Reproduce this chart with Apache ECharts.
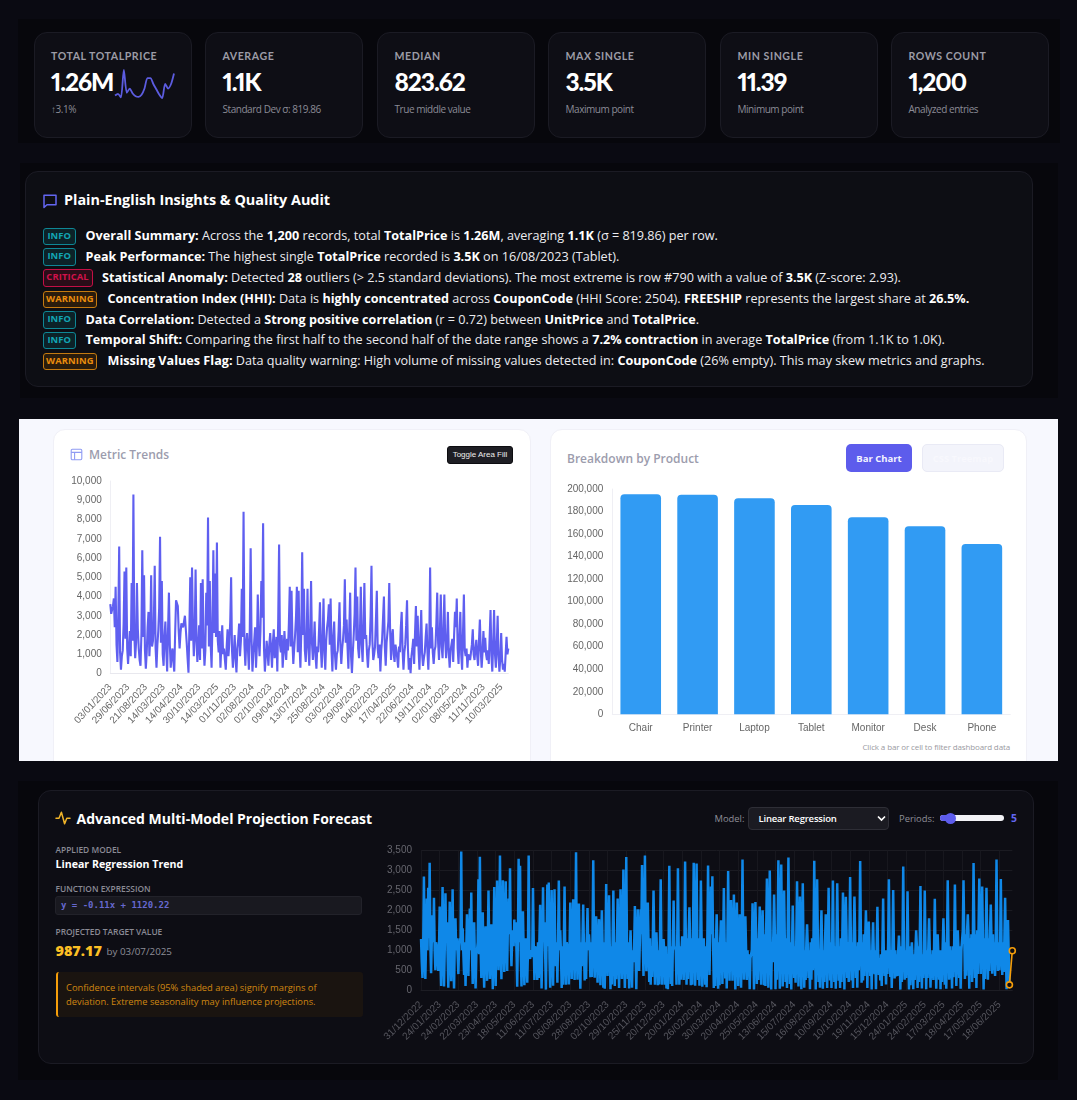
<!DOCTYPE html>
<html lang="en">
<head>
<meta charset="utf-8">
<title>Sales Analytics Dashboard</title>
<script src="https://cdn.jsdelivr.net/npm/echarts@6/dist/echarts.min.js"></script>
<style>
  * { box-sizing: border-box; }
  html, body { margin: 0; padding: 0; background: #0a0a12; width: 1077px; height: 1100px; overflow: hidden; }
  body { position: relative; font-family: "Open Sans", sans-serif; color: #fff; }
  .abs { position: absolute; white-space: nowrap; }
  .strip { position: absolute; background: #07070c; }
  .kpi { position: absolute; top: 32px; width: 158px; height: 106px; border: 1px solid #1b1b24; border-radius: 13px; background: #0e0e15; }
  .kpi .name { position: absolute; left: 16.5px; top: 17px; font: 700 10.6px Lato, sans-serif; letter-spacing: .55px; color: #9c9ca6; white-space: nowrap; }
  .kpi .val { position: absolute; left: 16.5px; top: 33.5px; font: 900 24.5px Lato, sans-serif; font-feature-settings: "pnum" 1; letter-spacing: -1.1px; color: #fff; white-space: nowrap; }
  .kpi .sub { position: absolute; left: 16.5px; top: 69px; font: 400 10px "Open Sans", sans-serif; letter-spacing: -.45px; color: #8b8b95; white-space: nowrap; }
  .panel { position: absolute; border: 1px solid #1b1b24; border-radius: 13px; background: #0d0e14; }
  .row { position: absolute; white-space: nowrap; font: 400 12.63px/18px "Open Sans", sans-serif; color: #ececf0; }
  .row b { font-weight: 700; color: #fff; }
  .badge { position: absolute; left: 42.5px; height: 17.5px; border-radius: 3px; border: 1.5px solid; font: 700 9.4px/14px "Open Sans", sans-serif; letter-spacing: .1px; text-align: center; }
  .info { width: 33.5px; color: #12a5b4; border-color: #0e8795; background: #0c2228; }
  .critical { width: 50px; color: #d0124a; border-color: #c40f45; background: #2a0d18; }
  .warning { width: 54.5px; color: #ea8c0c; border-color: #c47a10; background: #2a1c0c; }
  .lightband { position: absolute; left: 19px; top: 419px; width: 1039px; height: 342px; background: #f7f8fe; overflow: hidden; }
  .lcard { position: absolute; top: 10px; height: 360px; background: #fff; border: 1px solid #f0f0f7; border-radius: 12px; }
  .chart { position: absolute; }
  .caps { font: 600 8.4px "Open Sans", sans-serif; color: #8a8a94; }
</style>
</head>
<body>
  <div class="strip" style="left:18px;top:19px;width:1042px;height:124px"></div>
  <div class="strip" style="left:20px;top:163px;width:1038px;height:235px"></div>
  <div class="strip" style="left:18px;top:781px;width:1040px;height:299px"></div>

  <div id="kpis"></div>
  <div class="chart" id="sparkChart" style="left:113px;top:67px;width:64px;height:34px"></div>

  <div class="panel" style="left:25px;top:171px;width:1008px;height:216px"></div>
  <svg class="abs" style="left:42px;top:193px" width="16" height="16" viewBox="0 0 16 16" fill="none" stroke="#6366f1" stroke-width="1.5" stroke-linejoin="round"><path d="M2 2.2h12v9.6H5L2 14.4z"/></svg>
  <div class="abs" style="left:64px;top:190px;font:700 14.4px/20px 'Open Sans',sans-serif;color:#fff">Plain-English Insights &amp; Quality Audit</div>
  <div id="insights"></div>

  <div class="lightband">
    <div class="lcard" style="left:34px;width:478px"></div>
    <div class="lcard" style="left:531px;width:477px"></div>
  </div>
  <svg class="abs" style="left:70px;top:448px" width="13" height="13" viewBox="0 0 13 13" fill="none" stroke="#8f9bf3" stroke-width="1.1"><rect x="1.2" y="1.2" width="10.6" height="10.6" rx="1.2"/><path d="M1.2 4.4h10.6M4.6 4.4v7.4"/></svg>
  <div class="abs" style="left:89px;top:446px;font:600 12px/18px 'Open Sans',sans-serif;color:#9c9cad">Metric Trends</div>
  <div class="abs" style="left:447px;top:446px;width:66px;height:18px;background:#1e1e24;border:1px solid #0c0c10;border-radius:3px;font:400 8px/16px 'Liberation Sans',sans-serif;color:#eee;text-align:center">Toggle Area Fill</div>
  <div class="abs" style="left:567px;top:450px;font:600 12px/18px 'Open Sans',sans-serif;color:#9c9cad">Breakdown by Product</div>
  <div class="abs" style="left:846px;top:444px;width:66px;height:28px;background:#5d5cec;border-radius:5px;font:700 9.5px/30px 'Open Sans',sans-serif;color:#f4f4ff;text-align:center">Bar Chart</div>
  <div class="abs" style="left:922px;top:444px;width:82px;height:28px;background:#f3f4fb;border:1px solid #e9eaf5;border-radius:5px;font:700 9.4px/28px 'Open Sans',sans-serif;color:#f8f8fd;text-align:center">CSS Treemap</div>
  <div class="abs" style="right:67px;top:741px;font:400 8px/12px 'Open Sans',sans-serif;letter-spacing:-.13px;color:#9a9aa2">Click a bar or cell to filter dashboard data</div>

  <div class="chart" id="trendChart" style="left:53px;top:470px;width:477px;height:291px"></div>
  <div class="chart" id="productChart" style="left:550px;top:478px;width:477px;height:262px"></div>

  <div class="panel" style="left:38px;top:790px;width:996px;height:274px;background:#0d0d14"></div>
  <svg class="abs" style="left:55px;top:811px" width="16" height="14" viewBox="0 0 16 14" fill="none" stroke="#f0b429" stroke-width="1.5" stroke-linejoin="round" stroke-linecap="round"><path d="M1 7.2h3l2.4-6 3.2 11.6 2.2-5.6H15"/></svg>
  <div class="abs" style="left:76.5px;top:808px;font:700 14px/21px 'Open Sans',sans-serif;color:#fff">Advanced Multi-Model Projection Forecast</div>
  <div class="abs caps" style="left:55.5px;top:844px">APPLIED MODEL</div>
  <div class="abs" style="left:55.5px;top:856px;font:700 10.6px/16px 'Open Sans',sans-serif;color:#fff">Linear Regression Trend</div>
  <div class="abs caps" style="left:55.5px;top:883px">FUNCTION EXPRESSION</div>
  <div class="abs" style="left:55px;top:896px;width:307px;height:18.5px;background:#191920;border:1px solid #22222a;border-radius:3px"></div>
  <div class="abs" style="left:61px;top:898px;font:700 9px/14px 'DejaVu Sans Mono',monospace;color:#6668cf">y = -0.11x + 1120.22</div>
  <div class="abs caps" style="left:55.5px;top:925.5px">PROJECTED TARGET VALUE</div>
  <div class="abs" style="left:55.5px;top:941px;font:800 14.4px/20px 'Open Sans',sans-serif;color:#fbbf24">987.17</div>
  <div class="abs" style="left:106.5px;top:944px;font:400 9.8px/16px 'Open Sans',sans-serif;color:#8e8e98">by 03/07/2025</div>
  <div class="abs" style="left:55.5px;top:972px;width:307px;height:45px;background:#1a1410;border-left:2.5px solid #f59e0b;border-radius:3px"></div>
  <div class="abs" style="left:66px;top:981px;font:400 9.36px/14px 'Open Sans',sans-serif;color:#cf8610">Confidence intervals (95% shaded area) signify margins of<br>deviation. Extreme seasonality may influence projections.</div>

  <div class="abs" style="left:714.5px;top:811px;font:400 9.4px/15px 'Open Sans',sans-serif;color:#8e8e98">Model:</div>
  <div class="abs" style="left:748px;top:806.5px;width:141px;height:23px;background:#1b1b22;border:1px solid #2e2e36;border-radius:4px"></div>
  <div class="abs" style="left:758.5px;top:811px;font:600 9.5px/15px 'Open Sans',sans-serif;letter-spacing:-.2px;color:#fff">Linear Regression</div>
  <svg class="abs" style="left:877px;top:815px" width="9" height="7" viewBox="0 0 9 7" fill="none" stroke="#fff" stroke-width="1.7"><path d="M1 1.5l3.5 3.5 3.5-3.5"/></svg>
  <div class="abs" style="left:899px;top:811px;font:400 9.4px/15px 'Open Sans',sans-serif;color:#8e8e98">Periods:</div>
  <div class="abs" style="left:940px;top:815px;width:64px;height:6px;background:#f2f2f6;border-radius:3px"></div>
  <div class="abs" style="left:940px;top:815px;width:10px;height:6px;background:#5d5cec;border-radius:3px 0 0 3px"></div>
  <div class="abs" style="left:944.5px;top:812.5px;width:11px;height:11px;background:#5d5cec;border-radius:50%"></div>
  <div class="abs" style="left:1011px;top:811px;font:700 10.4px/15px 'Open Sans',sans-serif;color:#6366f1">5</div>

  <div class="chart" id="forecastChart" style="left:380px;top:840px;width:654px;height:222px"></div>

<script>
// KPI cards
const kpiNames = ["TOTAL TOTALPRICE", "AVERAGE", "MEDIAN", "MAX SINGLE", "MIN SINGLE", "ROWS COUNT"];
const kpiValues = ["1.26M", "1.1K", "823.62", "3.5K", "11.39", "1,200"];
const kpiNotes = ["\u21913.1%", "Standard Dev \u03c3: 819.86", "True middle value", "Maximum point", "Minimum point", "Analyzed entries"];
const kpiLefts = [33.5, 205, 377, 548, 720, 891];

// Sparkline inside the first card
const sparkValues = [7, 12, 2, 80, 15, 27, 13, 5, 3, 9, 27, 57, 57, 40, 25, 10, 0, 40, 27, 40, 70];

// Insight rows: severity, text
const insightLevels = ["info", "info", "critical", "warning", "info", "info", "warning"];
const insightTexts = [
  "<b>Overall Summary:</b> Across the <b>1,200</b> records, total <b>TotalPrice</b> is <b>1.26M</b>, averaging <b>1.1K</b> (\u03c3 = 819.86) per row.",
  "<b>Peak Performance:</b> The highest single <b>TotalPrice</b> recorded is <b>3.5K</b> on 16/08/2023 (Tablet).",
  "<b>Statistical Anomaly:</b> Detected <b>28</b> outliers (> 2.5 standard deviations). The most extreme is row #790 with a value of <b>3.5K</b> (Z-score: 2.93).",
  "<b>Concentration Index (HHI):</b> Data is <b>highly concentrated</b> across <b>CouponCode</b> (HHI Score: 2504). <b>FREESHIP</b> represents the largest share at <b>26.5%.</b>",
  "<b>Data Correlation:</b> Detected a <b>Strong positive correlation</b> (r = 0.72) between <b>UnitPrice</b> and <b>TotalPrice</b>.",
  "<b>Temporal Shift:</b> Comparing the first half to the second half of the date range shows a <b>7.2% contraction</b> in average <b>TotalPrice</b> (from 1.1K to 1.0K).",
  "<b>Missing Values Flag:</b> Data quality warning: High volume of missing values detected in: <b>CouponCode</b> (26% empty). This may skew metrics and graphs."
];
const insightRowTops = [227, 247.5, 268.5, 290, 310.5, 331, 352];
const insightTextLefts = { info: 85.5, critical: 102, warning: 107.5 };

// Metric Trends line
const trendTickLabels = ["03/01/2023", "29/06/2023", "21/08/2023", "14/03/2023", "14/04/2024", "30/10/2023", "14/03/2025", "01/11/2023", "02/08/2024", "02/10/2023", "09/04/2024", "13/07/2024", "25/08/2024", "03/02/2024", "29/09/2023", "04/02/2023", "17/04/2025", "22/06/2024", "19/11/2024", "02/01/2023", "08/05/2024", "11/11/2023", "10/03/2025"];
const trendValues = [
  3600, 3100, 3000, 3500, 3900, 2400, 4500, 1500, 600, 2900, 6600, 1100, 200, 900, 1200, 2600, 5300, 1800, 5500, 1300,
  500, 1400, 2200, 900, 4700, 1700, 9300, 2100, 800, 1600, 4700, 2300, 1300, 700, 400, 2000, 6400, 1900, 5100, 1200,
  250, 1100, 2400, 3200, 900, 1900, 5100, 1400, 1700, 2600, 5600, 1300, 300, 1500, 2200, 3400, 7100, 1600, 4800, 1000,
  400, 1900, 2700, 1200, 100, 2300, 4200, 1500, 300, 1000, 1300, 600, 100, 2100, 3800, 3700, 3500, 2200, 1300, 2100,
  2600, 2500, 2400, 2700, 3000, 2300, 1600, 800, 40, 2300, 5000, 1700, 5500, 2400, 900, 2000, 5400, 1800, 600, 1500,
  2500, 700, 4700, 1300, 4900, 1600, 400, 1200, 4200, 2500, 8100, 1400, 4800, 1500, 300, 2600, 6400, 2100, 5200, 1900,
  6800, 1700, 1100, 2200, 300, 1500, 2500, 1000, 1300, 700, 200, 1400, 2300, 900, 1600, 2700, 5000, 1200, 300, 1100,
  2000, 800, 50, 1300, 1800, 2600, 900, 1700, 4400, 1900, 8400, 1500, 400, 1600, 2100, 1200, 200, 2300, 6500, 1800,
  100, 1000, 1700, 2400, 300, 1400, 4100, 1800, 900, 2200, 4800, 2900, 7800, 1300, 100, 900, 1700, 1100, 400, 1500,
  2100, 1200, 300, 1600, 2300, 800, 1100, 1900, 100, 2800, 6700, 1500, 1100, 2000, 300, 1100, 2200, 1300, 700, 1800,
  1200, 2600, 4500, 1400, 4300, 1700, 500, 1300, 2000, 2900, 4500, 1100, 4300, 1500, 300, 2200, 6300, 2000, 4400, 1200,
  600, 1900, 4400, 1300, 400, 2100, 4800, 1600, 700, 1500, 2700, 900, 250, 1400, 1100, 2300, 3700, 1300, 300, 1800,
  3900, 1100, 200, 1700, 2400, 2800, 3600, 1500, 3900, 1200, 100, 1900, 2700, 900, 200, 1000, 1200, 2200, 3700, 1500,
  500, 1300, 1800, 2500, 4900, 1600, 2800, 1400, 250, 2300, 4200, 900, 30, 1100, 2000, 3100, 5500, 1700, 4000, 1300,
  800, 2100, 4500, 1500, 600, 2400, 4700, 1800, 2000, 1000, 300, 1200, 1500, 3000, 5600, 1700, 700, 1000, 1400, 2800,
  4300, 1300, 800, 1500, 100, 1200, 1800, 2900, 4000, 1400, 400, 1600, 1700, 2700, 4700, 2200, 700, 1900, 2300, 1000,
  600, 1500, 1200, 800, 300, 1400, 1100, 2400, 3200, 1200, 200, 1100, 1500, 2500, 3800, 1300, 200, 800, 20, 900,
  1300, 1800, 500, 2100, 3500, 1400, 3000, 1200, 200, 1900, 3300, 1000, 400, 800, 1100, 1900, 2600, 1100, 200, 1600,
  5500, 1300, 2400, 1100, 500, 1200, 1400, 2600, 4200, 1600, 700, 2200, 4100, 1400, 800, 2300, 4100, 1700, 800, 1600,
  3200, 1100, 300, 1200, 1100, 1800, 600, 2000, 3200, 2400, 3900, 1300, 500, 1900, 3200, 1000, 200, 2100, 4100, 1200,
  900, 1300, 300, 1000, 1100, 700, 800, 1500, 2300, 1000, 700, 1300, 1750, 900, 400, 1700, 2800, 1200, 300, 1100,
  2200, 1100, 1850, 1000, 700, 1200, 500, 1900, 3300, 900, 100, 1600, 3300, 1000, 300, 1500, 3000, 900, 100, 800,
  2100, 700, 200, 500, 100, 1000, 1900, 1000, 1300
];

// Breakdown by Product bars
const productNames = ["Chair", "Printer", "Laptop", "Tablet", "Monitor", "Desk", "Phone"];
const productTotals = [195300, 195000, 191700, 185800, 174900, 166900, 151200];

// Projection chart: observed series, fitted end segment and date ticks
const forecastTickLabels = ["31/12/2022", "24/01/2023", "24/02/2023", "22/03/2023", "23/04/2023", "18/05/2023", "11/06/2023", "11/07/2023", "06/08/2023", "28/08/2023", "02/10/2023", "29/10/2023", "25/11/2023", "20/12/2023", "20/01/2024", "26/02/2024", "30/03/2024", "20/04/2024", "25/05/2024", "13/06/2024", "15/07/2024", "16/08/2024", "10/09/2024", "10/10/2024", "19/11/2024", "15/12/2024", "24/01/2025", "24/02/2025", "17/03/2025", "18/04/2025", "17/05/2025", "18/06/2025"];
const forecastValues = [
  1280, 700, 300, 1100, 2850, 900, 280, 1200, 2300, 1000, 2570, 1300, 3200, 1100, 420, 1300, 1880, 1200, 2320, 1000, 500, 1200, 1100, 900, 480, 1000,
  2100, 800, 100, 1200, 2590, 1100, 90, 1000, 2430, 1200, 1700, 900, 60, 1100, 2220, 1000, 220, 1300, 2530, 800, 40, 1200, 1800, 1000, 1300, 900,
  400, 1100, 1300, 1200, 3480, 1000, 1550, 900, 380, 1200, 100, 1000, 1900, 1100, 350, 1300, 2050, 1000, 2450, 900, 150, 1200, 1700, 800, 40, 900,
  1000, 1200, 2780, 900, 3350, 1100, 300, 1400, 1950, 800, 60, 1300, 1600, 1000, 230, 1200, 2500, 1100, 280, 1300, 1650, 900, 20, 1200, 2590, 1000,
  100, 1400, 2750, 1500, 500, 1300, 3380, 1200, 270, 1600, 2760, 1400, 450, 1500, 2730, 1300, 480, 1600, 2300, 1400, 3060, 1200, 600, 1300, 1500, 1100,
  1770, 1200, 1700, 1000, 80, 1300, 3300, 1200, 3120, 900, 90, 1100, 1980, 1000, 120, 1200, 1300, 800, 180, 1000, 3380, 900, 780, 1000, 830, 900,
  2560, 1200, 250, 1100, 1150, 900, 250, 1200, 300, 1300, 2140, 1000, 40, 1100, 2580, 1200, 1700, 900, 10, 1300, 2650, 1100, 2700, 800, 60, 1200,
  2510, 900, 110, 1300, 2530, 1100, 600, 1200, 180, 1300, 2750, 1000, 1500, 900, 50, 1100, 130, 1200, 2600, 900, 130, 1200, 1200, 1000, 140, 1100,
  2200, 1300, 280, 1400, 2280, 1200, 250, 1300, 3460, 1100, 260, 1400, 2170, 1000, 30, 1200, 600, 1300, 2150, 1100, 240, 1200, 280, 1300, 2060, 1000,
  1400, 1100, 320, 1200, 330, 1300, 3260, 1200, 310, 1400, 1850, 1000, 180, 1200, 1780, 1000, 120, 1300, 2000, 1100, 60, 1200, 30, 1000, 2660, 1100,
  350, 1300, 2380, 1100, 20, 1100, 140, 1300, 2500, 1000, 100, 1200, 270, 1300, 2300, 900, 50, 1200, 2530, 1100, 280, 1300, 3030, 1000, 50, 1200,
  3340, 1100, 280, 1200, 40, 1000, 1500, 800, 60, 1000, 700, 1100, 2110, 900, 20, 1200, 2030, 1200, 480, 1300, 2030, 1400, 3140, 1200, 350, 1500,
  3380, 1300, 470, 1400, 2200, 1200, 200, 1300, 130, 1100, 330, 1300, 2500, 1100, 130, 1000, 1450, 900, 120, 1000, 140, 1200, 2780, 1000, 130, 1000,
  1280, 900, 130, 1100, 40, 900, 20, 1200, 3120, 1000, 150, 1100, 100, 1200, 2250, 1100, 1100, 1000, 130, 1200, 3060, 1200, 130, 1100, 260, 1000,
  1350, 800, 250, 1100, 3230, 1300, 130, 1300, 280, 1400, 2080, 1200, 120, 1300, 130, 1400, 3200, 1400, 110, 1300, 3180, 1200, 250, 1300, 110, 1000,
  2750, 1300, 80, 1200, 1300, 1300, 130, 1100, 70, 1300, 3130, 1300, 380, 1500, 2600, 1400, 2860, 1200, 50, 1300, 100, 1200, 1900, 1100, 30, 1200,
  120, 1300, 1750, 1400, 150, 1200, 2560, 1300, 290, 1200, 40, 1300, 2990, 1300, 230, 1400, 2260, 1200, 230, 1300, 2400, 1100, 10, 1200, 2200, 1200,
  100, 1100, 1900, 1200, 60, 1300, 3280, 1200, 260, 1100, 1850, 1000, 250, 1000, 350, 900, 20, 800, 900, 1000, 2180, 1200, 10, 1200, 2210, 1300,
  150, 1300, 250, 1400, 2100, 1300, 130, 1200, 2000, 1300, 120, 1400, 100, 1500, 2800, 1500, 60, 1600, 3000, 1400, 10, 1200, 700, 1400, 2400, 1500,
  20, 1400, 260, 1500, 3260, 1500, 30, 1600, 3150, 1400, 90, 1300, 2500, 1200, 200, 1300, 50, 1400, 3330, 1300, 150, 1200, 10, 1100, 2120, 1200,
  300, 1100, 180, 1300, 2730, 1200, 90, 1300, 2350, 1200, 20, 1300, 2680, 1100, 60, 1000, 250, 1200, 1650, 1100, 300, 1000, 20, 1200, 260, 1300,
  500, 1400, 3250, 1300, 10, 1200, 2780, 1300, 200, 1000, 60, 1300, 2000, 1100, 30, 1000, 200, 1200, 1900, 1100, 50, 1200, 2570, 1300, 240, 1200,
  50, 1300, 2750, 1200, 200, 1100, 30, 1300, 2680, 1300, 230, 1100, 50, 1300, 200, 1200, 2450, 1400, 10, 1300, 2340, 1400, 300, 1200, 200, 1300,
  2840, 1300, 240, 1200, 50, 1400, 2350, 1300, 300, 1100, 60, 1200, 500, 1400, 3240, 1300, 180, 1200, 240, 1400, 350, 1300, 2000, 1200, 50, 1200,
  1720, 1100, 350, 1000, 10, 1100, 1700, 900, 400, 1000, 20, 1100, 2090, 900, 380, 800, 240, 900, 100, 1100, 2300, 800, 350, 1000, 140, 1000,
  400, 1200, 2780, 1100, 330, 1000, 50, 1200, 2510, 1100, 290, 1000, 340, 900, 350, 1000, 1370, 900, 10, 1100, 200, 1200, 3100, 1100, 260, 1000,
  300, 1100, 2480, 1000, 10, 1100, 120, 900, 1200, 800, 20, 900, 250, 1000, 1500, 1100, 50, 1100, 200, 1200, 2610, 1000, 40, 900, 300, 1000,
  2500, 1100, 20, 1000, 300, 1100, 1800, 1000, 60, 900, 300, 1000, 250, 1100, 2290, 1000, 30, 900, 1400, 900, 260, 1000, 20, 1000, 200, 1100,
  1800, 1100, 130, 1200, 30, 1200, 2760, 1300, 260, 1100, 300, 1000, 40, 1100, 320, 1200, 2650, 1200, 100, 1000, 1500, 1000, 300, 1100, 30, 1000,
  1000, 1500, 2760, 1400, 280, 1400, 360, 1500, 1900, 1400, 30, 1300, 380, 1400, 200, 1300, 3190, 1500, 300, 1400, 50, 1500, 400, 1600, 2800, 1500,
  400, 1500, 2600, 1400, 10, 1300, 280, 1300, 2570, 1400, 260, 1300, 480, 1500, 2150, 1300, 410, 1400, 500, 1200, 350, 1300, 3280, 1300, 480, 1200,
  500, 1000, 2790, 1100, 380, 1200, 450, 1300, 2320, 1100, 20, 1000, 1760, 900, 130
];
const projectedValue = 987.17;

const TEXT_AXIS = "Liberation Sans, Arial, sans-serif";

// Spread tick labels across an index range, leaving the dates in between unlabelled
function sparseCategories(labels, step, count) {
  const out = new Array(count).fill("");
  labels.forEach((label, i) => { out[i * step] = label; });
  return out;
}

document.getElementById("kpis").innerHTML = kpiNames.map((name, i) =>
  `<div class="kpi" style="left:${kpiLefts[i]}px"><div class="name">${name}</div><div class="val">${kpiValues[i]}</div><div class="sub">${kpiNotes[i]}</div></div>`
).join("");

document.getElementById("insights").innerHTML = insightTexts.map((text, i) => {
  const level = insightLevels[i];
  return `<div class="badge ${level}" style="top:${insightRowTops[i] + 0.5}px">${level.toUpperCase()}</div>` +
    `<div class="row" style="left:${insightTextLefts[level]}px;top:${insightRowTops[i]}px">${text}</div>`;
}).join("");

echarts.init(document.getElementById("sparkChart")).setOption({
  animation: false,
  grid: { left: 2, right: 3, top: 3, bottom: 3 },
  xAxis: { type: "category", show: false, boundaryGap: false, data: sparkValues.map((_, i) => i) },
  yAxis: { type: "value", show: false, min: 0, max: 80 },
  series: [{ type: "line", data: sparkValues, showSymbol: false, smooth: 0.25, lineStyle: { color: "#5c5ce0", width: 1.8 } }]
});

echarts.init(document.getElementById("trendChart")).setOption({
  animation: false,
  grid: { left: 57.3, top: 11, width: 398, height: 192.5 },
  xAxis: {
    type: "category", boundaryGap: false,
    data: sparseCategories(trendTickLabels, 20, trendValues.length),
    axisLine: { lineStyle: { color: "#e8e8ee" } }, axisTick: { show: false }, splitLine: { show: false },
    axisLabel: { interval: 19, rotate: 47, margin: 12, color: "#666", fontSize: 10, fontFamily: TEXT_AXIS }
  },
  yAxis: {
    type: "value", min: 0, max: 10000, interval: 1000,
    axisLine: { show: true, lineStyle: { color: "#efeff4" } }, axisTick: { show: false }, splitLine: { show: false },
    axisLabel: { margin: 8.5, color: "#666", fontSize: 10, fontFamily: TEXT_AXIS }
  },
  series: [{ type: "line", data: trendValues, showSymbol: false, lineStyle: { color: "#5f5ff0", width: 2.1 } }]
});

echarts.init(document.getElementById("productChart")).setOption({
  animation: false,
  grid: { left: 62.3, top: 11, width: 398, height: 225.3 },
  xAxis: {
    type: "category", data: productNames,
    axisLine: { lineStyle: { color: "#efeff4" } }, axisTick: { show: false },
    axisLabel: { margin: 9, color: "#666", fontSize: 10, fontFamily: TEXT_AXIS }
  },
  yAxis: {
    type: "value", min: 0, max: 200000, interval: 20000,
    axisLine: { show: true, lineStyle: { color: "#efeff4" } }, axisTick: { show: false }, splitLine: { show: false },
    axisLabel: { margin: 9, color: "#666", fontSize: 10, fontFamily: TEXT_AXIS }
  },
  series: [{ type: "bar", data: productTotals, barWidth: 40.6, itemStyle: { color: "#319bf3", borderRadius: [4, 4, 0, 0] } }]
});

// The fitted segment runs from the last observed point to the projected value
const forecastCount = forecastValues.length + 4;
const forecastEnd = new Array(forecastCount).fill(null);
forecastEnd[forecastValues.length - 1] = forecastValues[forecastValues.length - 1];
forecastEnd[forecastCount - 1] = projectedValue;

echarts.init(document.getElementById("forecastChart")).setOption({
  animation: false,
  grid: { left: 38, top: 10.7, width: 594.3, height: 139.3 },
  xAxis: {
    type: "category", boundaryGap: false,
    data: sparseCategories(forecastTickLabels, 26, forecastCount),
    axisLine: { lineStyle: { color: "#1d1d24" } }, axisTick: { show: false },
    splitLine: { show: true, interval: 25, lineStyle: { color: "#17171e" } },
    axisLabel: { interval: 25, rotate: 45, margin: 13, color: "#55555d", fontSize: 10, fontFamily: TEXT_AXIS }
  },
  yAxis: {
    type: "value", min: 0, max: 3500, interval: 500,
    axisLine: { show: false }, axisTick: { show: false },
    splitLine: { lineStyle: { color: "#1b1b22" } },
    axisLabel: { margin: 9, color: "#66666e", fontSize: 10, fontFamily: TEXT_AXIS }
  },
  series: [
    { type: "line", data: forecastValues, showSymbol: false, lineStyle: { color: "#0f88e8", width: 2.5 } },
    { type: "line", data: forecastEnd, connectNulls: true, symbol: "circle", symbolSize: 6, showSymbol: true, showAllSymbol: true,
      itemStyle: { color: "#0d0d14", borderColor: "#f59e0b", borderWidth: 1.6 }, lineStyle: { color: "#f59e0b", width: 1.6 } }
  ]
});
</script>
</body>
</html>
